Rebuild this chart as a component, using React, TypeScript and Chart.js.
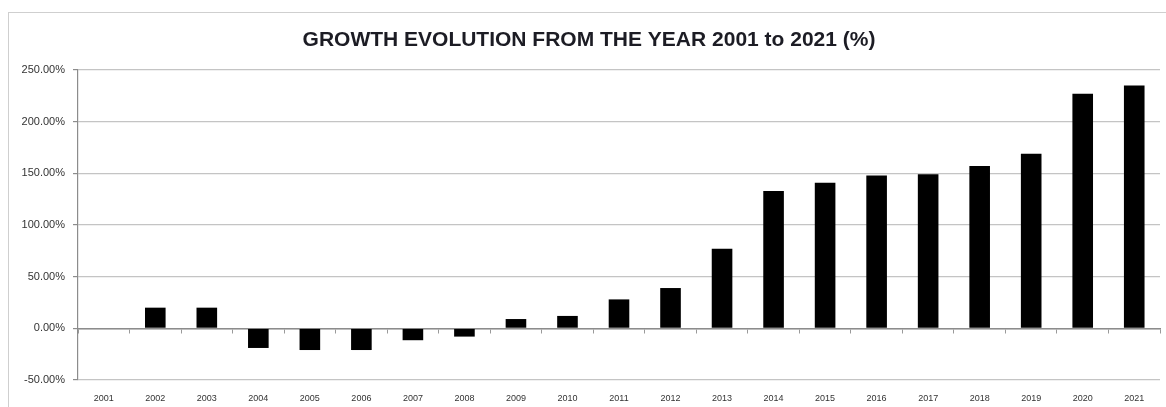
import React, { useEffect, useRef } from "react";
import { Chart, registerables } from "chart.js";

Chart.register(...registerables);

// Years on the category axis
const years: string[] = [
  "2001", "2002", "2003", "2004", "2005", "2006", "2007",
  "2008", "2009", "2010", "2011", "2012", "2013", "2014",
  "2015", "2016", "2017", "2018", "2019", "2020", "2021",
];

// Cumulative growth against 2001, in percent
const growthPct: number[] = [
  0, 20, 20, -19, -21, -21, -11.5,
  -8, 9, 12, 28, 39, 77, 133,
  141, 148, 149, 157, 169, 227, 235,
];

// Value-axis range and step, in percent
const yMin = -50;
const yMax = 250;
const yStep = 50;

const chartTitle = "GROWTH EVOLUTION FROM THE YEAR 2001 to 2021 (%)";

export default function App() {
  const canvasRef = useRef<HTMLCanvasElement | null>(null);

  useEffect(() => {
    if (!canvasRef.current) return;
    const chart = new Chart(canvasRef.current, {
      type: "bar",
      data: {
        labels: years,
        datasets: [
          {
            label: "Growth",
            data: growthPct,
            backgroundColor: "#000000",
            borderWidth: 0,
            barPercentage: 0.4,
            categoryPercentage: 1,
          },
        ],
      },
      options: {
        animation: false,
        responsive: true,
        maintainAspectRatio: false,
        layout: { padding: { left: 18, right: 6, top: 0, bottom: 0 } },
        plugins: {
          legend: { display: false },
          tooltip: { enabled: false },
          title: {
            display: true,
            text: chartTitle,
            color: "#1c1c24",
            font: { family: "'Liberation Sans', Arial, sans-serif", size: 21, weight: "bold", lineHeight: 1.2 },
            padding: { top: 28, bottom: 16.8 },
          },
        },
        scales: {
          x: {
            type: "category",
            position: "bottom",
            grid: { display: false, drawTicks: false },
            border: { display: false },
            ticks: {
              color: "#333333",
              font: { family: "'Liberation Sans', Arial, sans-serif", size: 9 },
              padding: 13,
              maxRotation: 0,
              autoSkip: false,
            },
            afterFit: (scale: any) => {
              scale.height = 27;
            },
          },
          x2: {
            type: "category",
            labels: years,
            position: { y: 0 } as any,
            offset: true,
            grid: {
              display: true,
              offset: true,
              drawOnChartArea: false,
              drawTicks: true,
              tickLength: 4,
              tickColor: "#9a9a9a",
              color: "#9a9a9a",
            },
            border: { display: true, color: "#8c8c8c", width: 1.5 },
            ticks: { display: false },
          },
          y: {
            type: "linear",
            min: yMin,
            max: yMax,
            grid: {
              color: "#c4c4c4",
              lineWidth: 1.2,
              drawTicks: true,
              tickLength: 5,
              tickColor: "#8c8c8c",
            },
            border: { display: true, color: "#8c8c8c", width: 1.2 },
            ticks: {
              stepSize: yStep,
              color: "#333333",
              font: { family: "'Liberation Sans', Arial, sans-serif", size: 11 },
              padding: 8,
              callback: (v: any) => Number(v).toFixed(2) + "%",
            },
            afterFit: (scale: any) => {
              scale.width = 60;
            },
          },
        },
      },
    });
    return () => chart.destroy();
  }, []);

  return (
    <div
      style={{
        position: "fixed",
        left: 0,
        top: 0,
        width: 1166,
        height: 407,
        background: "#ffffff",
        overflow: "hidden",
      }}
    >
      <div
        style={{
          position: "absolute",
          left: 8,
          top: 12,
          width: 1200,
          height: 450,
          borderLeft: "1px solid #cfcfcf",
          borderTop: "1px solid #cfcfcf",
        }}
      />
      <canvas ref={canvasRef} style={{ position: "absolute", left: 0, top: 0, width: 1166, height: 407 }} />
    </div>
  );
}
